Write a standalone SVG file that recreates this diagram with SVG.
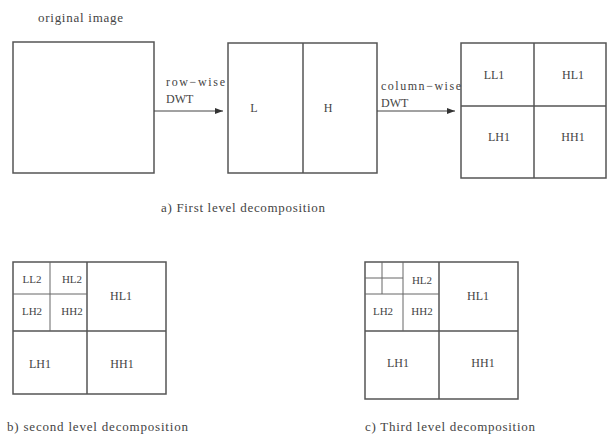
<svg xmlns="http://www.w3.org/2000/svg" width="608" height="434" viewBox="0 0 608 434">
<defs>
<marker id="ah" markerWidth="8" markerHeight="6" refX="8" refY="3" orient="auto" markerUnits="userSpaceOnUse">
<path d="M0,0 L8,3 L0,6 Z" fill="#333"/>
</marker>
<style>
.box{fill:none;stroke:#555;stroke-width:1.5}
.ln{stroke:#555;stroke-width:1.5}
.thin{stroke:#666;stroke-width:1}
.t{font-family:"Liberation Serif","Times New Roman",serif;font-size:12px;fill:#444}
.cap{font-family:"Liberation Serif","Times New Roman",serif;font-size:13px;fill:#444}
.s{font-family:"Liberation Serif","Times New Roman",serif;font-size:11px;fill:#444}
.c{text-anchor:middle}
.con{stroke:#444;stroke-width:1;fill:none}
</style>
</defs>
<rect width="608" height="434" fill="#fff"/>

<g id="original">
<text class="cap" x="38" y="22" textLength="85">original image</text>
<rect class="box" x="13" y="42" width="141" height="131"/>
</g>

<g id="firstRow">
<rect class="box" x="228" y="43" width="149" height="130"/>
<line class="ln" x1="303" y1="43" x2="303" y2="173"/>
<text class="t c" x="254" y="112">L</text>
<text class="t c" x="328" y="112">H</text>
</g>

<g id="firstLevel">
<rect class="box" x="461" y="43" width="145" height="135"/>
<line class="ln" x1="534" y1="43" x2="534" y2="178"/>
<line class="ln" x1="461" y1="106" x2="606" y2="106"/>
<text class="t c" x="494" y="79">LL1</text>
<text class="t c" x="573" y="79">HL1</text>
<text class="t c" x="499" y="141">LH1</text>
<text class="t c" x="573" y="141">HH1</text>
<text class="cap" x="161" y="212" textLength="164">a) First level decomposition</text>
</g>

<g id="secondLevel">
<rect class="box" x="13" y="262" width="153" height="132"/>
<line class="ln" x1="87" y1="262" x2="87" y2="394"/>
<line class="ln" x1="13" y1="331" x2="166" y2="331"/>
<line class="thin" x1="50" y1="262" x2="50" y2="331"/>
<line class="thin" x1="13" y1="294" x2="87" y2="294"/>
<text class="s c" x="32" y="283">LL2</text>
<text class="s c" x="72" y="283">HL2</text>
<text class="s c" x="32" y="315">LH2</text>
<text class="s c" x="72" y="315">HH2</text>
<text class="t c" x="121" y="300">HL1</text>
<text class="t c" x="40" y="368">LH1</text>
<text class="t c" x="122" y="368">HH1</text>
<text class="cap" x="7" y="431" textLength="181">b) second level decomposition</text>
</g>

<g id="thirdLevel">
<rect class="box" x="365" y="262" width="153" height="137"/>
<line class="ln" x1="439" y1="262" x2="439" y2="399"/>
<line class="ln" x1="365" y1="331" x2="518" y2="331"/>
<line class="thin" x1="403" y1="262" x2="403" y2="331"/>
<line class="thin" x1="365" y1="294" x2="439" y2="294"/>
<line class="thin" x1="382" y1="262" x2="382" y2="294"/>
<line class="thin" x1="365" y1="278" x2="403" y2="278"/>
<text class="s c" x="422" y="284">HL2</text>
<text class="s c" x="383" y="315">LH2</text>
<text class="s c" x="422" y="315">HH2</text>
<text class="t c" x="478" y="300">HL1</text>
<text class="t c" x="398" y="367">LH1</text>
<text class="t c" x="483" y="367">HH1</text>
<text class="cap" x="365" y="431" textLength="170">c) Third level decomposition</text>
</g>

<g id="connectors">
<line class="con" x1="154" y1="111" x2="223" y2="111" marker-end="url(#ah)"/>
<text class="t" x="166" y="86" textLength="59">row−wise</text>
<text class="t" x="166" y="103">DWT</text>
<line class="con" x1="377" y1="111" x2="455" y2="111" marker-end="url(#ah)"/>
<text class="t" x="381" y="90" textLength="80">column−wise</text>
<text class="t" x="381" y="107">DWT</text>
</g>
</svg>
